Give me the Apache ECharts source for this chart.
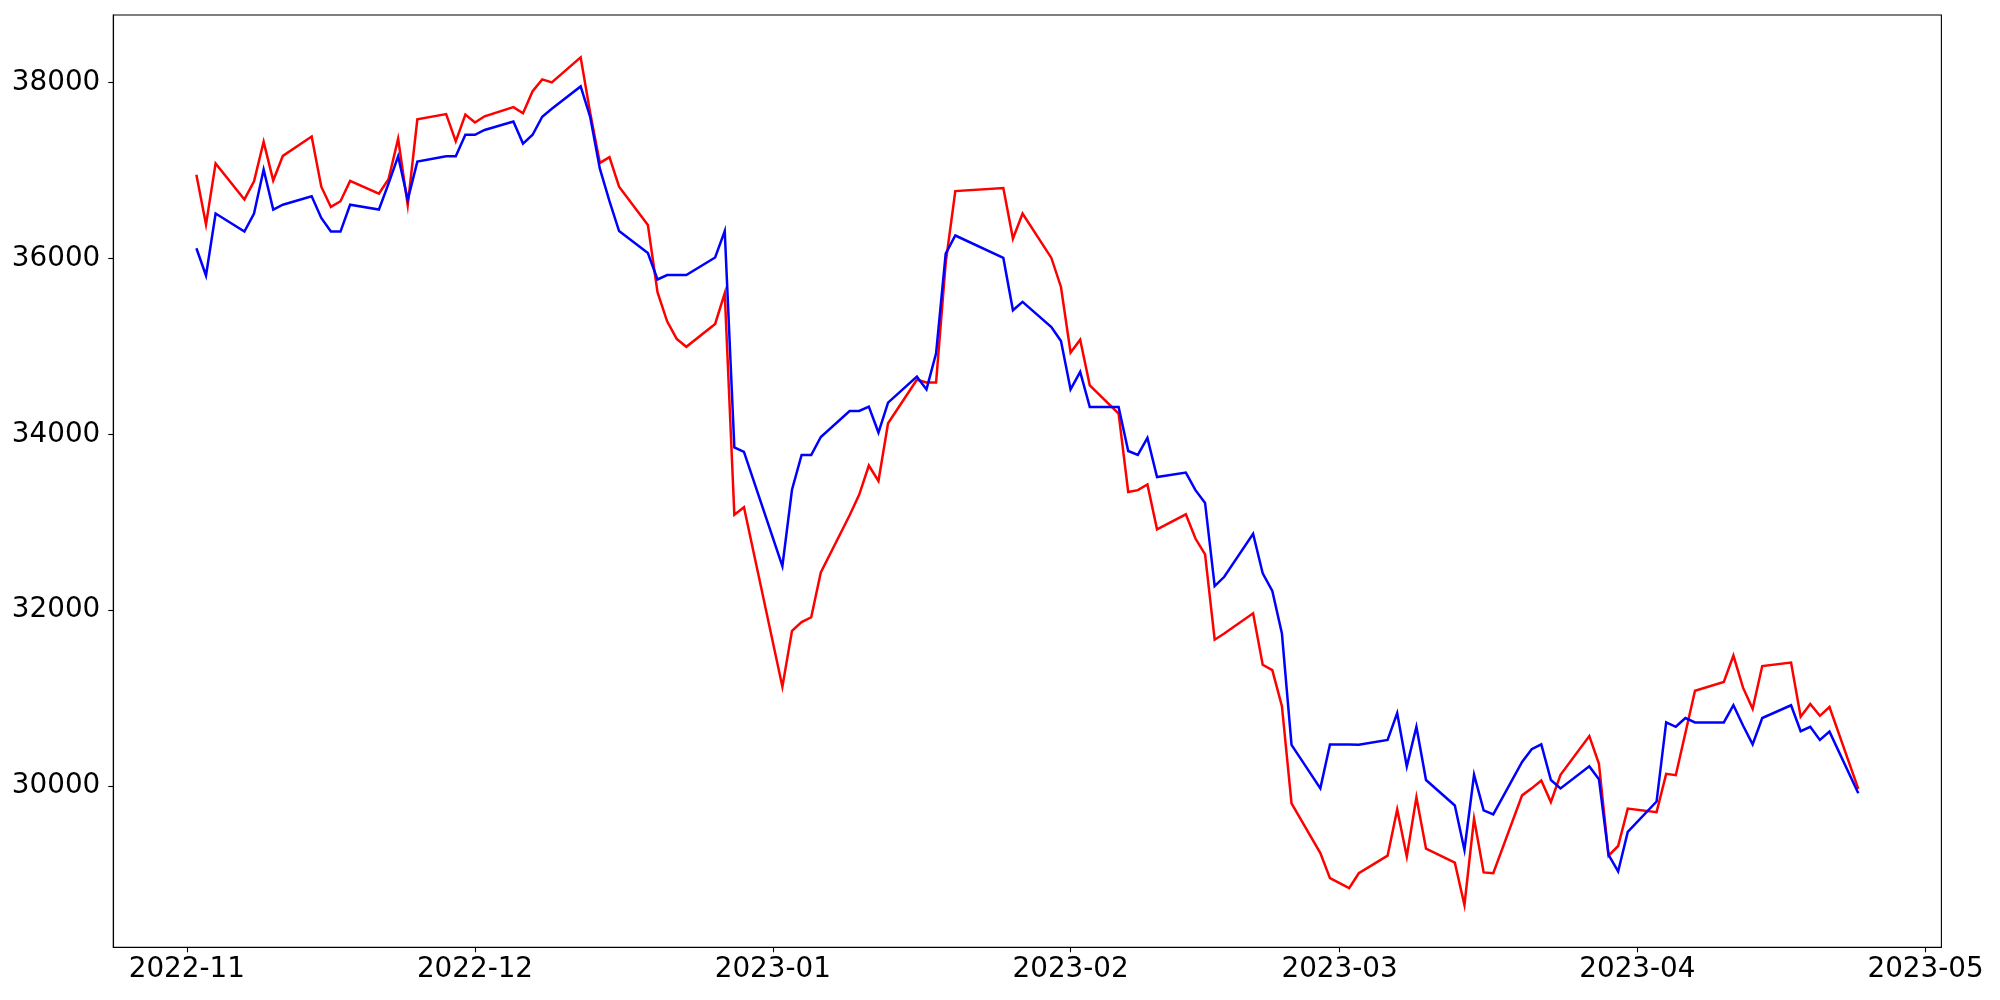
<!DOCTYPE html>
<html>
<head>
<meta charset="utf-8">
<script src="https://cdn.jsdelivr.net/npm/echarts@6/dist/echarts.min.js"></script>
<style>
html,body{margin:0;padding:0;background:#fff;}
#chart{width:2000px;height:1000px;}
</style>
</head>
<body>
<div id="chart"></div>
<script>
// Trading days
var dates = [
 '2022-11-02','2022-11-03','2022-11-04','2022-11-07','2022-11-08','2022-11-09','2022-11-10','2022-11-11','2022-11-14','2022-11-15',
 '2022-11-16','2022-11-17','2022-11-18','2022-11-21','2022-11-22','2022-11-23','2022-11-24','2022-11-25','2022-11-28','2022-11-29','2022-11-30',
 '2022-12-01','2022-12-02','2022-12-05','2022-12-06','2022-12-07','2022-12-08','2022-12-09','2022-12-12','2022-12-13','2022-12-14',
 '2022-12-15','2022-12-16','2022-12-19','2022-12-20','2022-12-21','2022-12-22','2022-12-23','2022-12-26','2022-12-27','2022-12-28','2022-12-29',
 '2023-01-02','2023-01-03','2023-01-04','2023-01-05','2023-01-06','2023-01-09','2023-01-10','2023-01-11','2023-01-12','2023-01-13',
 '2023-01-16','2023-01-17','2023-01-18','2023-01-19','2023-01-20','2023-01-25','2023-01-26','2023-01-27','2023-01-30','2023-01-31',
 '2023-02-01','2023-02-02','2023-02-03','2023-02-06','2023-02-07','2023-02-08','2023-02-09','2023-02-10','2023-02-13','2023-02-14',
 '2023-02-15','2023-02-16','2023-02-17','2023-02-20','2023-02-21','2023-02-22','2023-02-23','2023-02-24','2023-02-27','2023-02-28',
 '2023-03-02','2023-03-03','2023-03-06','2023-03-07','2023-03-08','2023-03-09','2023-03-10','2023-03-13','2023-03-14','2023-03-15',
 '2023-03-16','2023-03-17','2023-03-20','2023-03-21','2023-03-22','2023-03-23','2023-03-24','2023-03-27','2023-03-28','2023-03-29','2023-03-30','2023-03-31',
 '2023-04-03','2023-04-04','2023-04-05','2023-04-06','2023-04-07','2023-04-10','2023-04-11','2023-04-12','2023-04-13','2023-04-14',
 '2023-04-17','2023-04-18','2023-04-19','2023-04-20','2023-04-21','2023-04-24'
];

var redValues = [
 36950,36385,37080,36670,36875,37325,36885,37165,37385,36815,36585,36650,36880,36735,36900,37360,36605,37580,37640,37330,37635,
 37545,37615,37720,37650,37900,38035,38000,38285,37650,37085,37150,36815,36380,35615,35285,35085,34995,35255,35605,33085,33170,
 31130,31765,31865,31920,32430,33080,33315,33645,33470,34125,34620,34590,34590,35950,36765,36800,36225,36510,36005,35675,
 34930,35075,34555,34235,33345,33365,33430,32920,33090,32815,32635,31665,31735,31965,31380,31320,30910,29805,29240,28955,
 28840,29010,29210,29735,29200,29875,29290,29130,28650,29630,29020,29010,29895,29975,30065,29820,30130,30570,30255,29210,29320,29745,
 29705,30140,30125,30605,31085,31185,31485,31120,30880,31365,31405,30790,30935,30800,30900,29970
];

var blueValues = [
 36115,35805,36510,36305,36510,37010,36555,36610,36705,36460,36305,36305,36610,36555,36850,37160,36665,37100,37160,37160,37405,
 37405,37460,37555,37305,37405,37610,37700,37955,37605,37020,36650,36310,36060,35760,35810,35810,35810,36010,36310,33850,33800,
 32500,33370,33765,33765,33970,34265,34265,34315,34020,34360,34655,34510,34920,36055,36260,36005,35410,35505,35220,35060,
 34510,34710,34310,34310,33810,33765,33960,33515,33565,33365,33220,32275,32380,32870,32420,32220,31735,30470,29975,30475,
 30475,30470,30525,30830,30225,30675,30070,29780,29275,30130,29725,29680,30275,30420,30475,30070,29975,30225,30080,29220,29030,29480,
 29825,30725,30675,30775,30725,30725,30920,30690,30475,30775,30920,30625,30675,30525,30620,29920
];

var xTickMonths = ['2022-11','2022-12','2023-01','2023-02','2023-03','2023-04','2023-05'];
var yTicks = [30000,32000,34000,36000,38000];

function toTs(s){
  var p = s.split('-').map(Number);
  return Date.UTC(p[0], p[1]-1, p[2] || 1);
}
function pad2(n){ return (n<10?'0':'')+n; }

var xTickValues = xTickMonths.map(toTs);
var t0 = toTs(dates[0]), t1 = toTs(dates[dates.length-1]);
var xMin = t0 - (t1 - t0) * 0.05;
var xMax = t1 + (t1 - t0) * 0.05;
var allVals = redValues.concat(blueValues);
var vMin = Math.min.apply(null, allVals), vMax = Math.max.apply(null, allVals);
var yMin = vMin - (vMax - vMin) * 0.05;
var yMax = vMax + (vMax - vMin) * 0.05;

var redData = dates.map(function(d,i){ return [toTs(d), redValues[i]]; });
var blueData = dates.map(function(d,i){ return [toTs(d), blueValues[i]]; });

var font = 'DejaVu Sans';
var chart = echarts.init(document.getElementById('chart'), null, {renderer:'canvas'});
chart.setOption({
  animation: false,
  backgroundColor: '#ffffff',
  grid: {
    left: 113.3, right: 58.6, top: 15, bottom: 52.7,
    show: true, borderColor: '#000', borderWidth: 1.1, backgroundColor: 'transparent'
  },
  xAxis: {
    type: 'value',
    min: xMin, max: xMax,
    axisLine: {show: true, onZero: false, lineStyle: {color: '#000', width: 1.1}},
    axisTick: {show: true, inside: false, length: 5, lineStyle: {color: '#000', width: 1.1}, customValues: xTickValues},
    axisLabel: {
      show: true, color: '#000', fontFamily: font, fontSize: 27.8, margin: 8,
      customValues: xTickValues,
      formatter: function(v){ var d = new Date(v); return d.getUTCFullYear() + '-' + pad2(d.getUTCMonth()+1); }
    },
    splitLine: {show: false}
  },
  yAxis: {
    type: 'value',
    min: yMin, max: yMax,
    axisLine: {show: true, onZero: false, lineStyle: {color: '#000', width: 1.1}},
    axisTick: {show: true, inside: false, length: 5, lineStyle: {color: '#000', width: 1.1}, customValues: yTicks},
    axisLabel: {show: true, color: '#000', fontFamily: font, fontSize: 27.8, margin: 13, customValues: yTicks,
      formatter: function(v){ return String(v); }},
    splitLine: {show: false}
  },
  series: [
    {type: 'line', data: redData, showSymbol: false, symbol: 'none', lineStyle: {color: '#ff0000', width: 2.5, join: 'miter'}, itemStyle:{color:'#ff0000'}, z: 2},
    {type: 'line', data: blueData, showSymbol: false, symbol: 'none', lineStyle: {color: '#0000ff', width: 2.5, join: 'miter'}, itemStyle:{color:'#0000ff'}, z: 3}
  ]
});
</script>
</body>
</html>
